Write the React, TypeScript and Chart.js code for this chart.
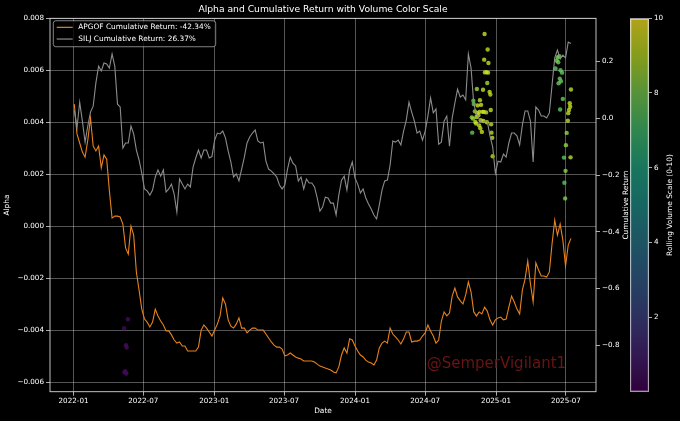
import { useEffect, useRef } from 'react';
import { Chart, registerables } from 'chart.js';

Chart.register(...registerables);

// ---------- data ----------
const weekDates = [
  '2022-01-03','2022-01-10','2022-01-17','2022-01-24','2022-01-31','2022-02-07','2022-02-14','2022-02-21','2022-02-28',
  '2022-03-07','2022-03-14','2022-03-21','2022-03-28','2022-04-04','2022-04-11','2022-04-18','2022-04-25',
  '2022-05-02','2022-05-09','2022-05-16','2022-05-23','2022-05-30','2022-06-06','2022-06-13','2022-06-20','2022-06-27',
  '2022-07-04','2022-07-11','2022-07-18','2022-07-25','2022-08-01','2022-08-08','2022-08-15','2022-08-22','2022-08-29',
  '2022-09-05','2022-09-12','2022-09-19','2022-09-26','2022-10-03','2022-10-10','2022-10-17','2022-10-24','2022-10-31',
  '2022-11-07','2022-11-14','2022-11-21','2022-11-28','2022-12-05','2022-12-12','2022-12-19','2022-12-26',
  '2023-01-02','2023-01-09','2023-01-16','2023-01-23','2023-01-30','2023-02-06','2023-02-13','2023-02-20','2023-02-27',
  '2023-03-06','2023-03-13','2023-03-20','2023-03-27','2023-04-03','2023-04-10','2023-04-17','2023-04-24',
  '2023-05-01','2023-05-08','2023-05-15','2023-05-22','2023-05-29','2023-06-05','2023-06-12','2023-06-19','2023-06-26',
  '2023-07-03','2023-07-10','2023-07-17','2023-07-24','2023-07-31','2023-08-07','2023-08-14','2023-08-21','2023-08-28',
  '2023-09-04','2023-09-11','2023-09-18','2023-09-25','2023-10-02','2023-10-09','2023-10-16','2023-10-23','2023-10-30',
  '2023-11-06','2023-11-13','2023-11-20','2023-11-27','2023-12-04','2023-12-11','2023-12-18','2023-12-25',
  '2024-01-01','2024-01-08','2024-01-15','2024-01-22','2024-01-29','2024-02-05','2024-02-12','2024-02-19','2024-02-26',
  '2024-03-04','2024-03-11','2024-03-18','2024-03-25','2024-04-01','2024-04-08','2024-04-15','2024-04-22','2024-04-29',
  '2024-05-06','2024-05-13','2024-05-20','2024-05-27','2024-06-03','2024-06-10','2024-06-17','2024-06-24',
  '2024-07-01','2024-07-08','2024-07-15','2024-07-22','2024-07-29','2024-08-05','2024-08-12','2024-08-19','2024-08-26',
  '2024-09-02','2024-09-09','2024-09-16','2024-09-23','2024-09-30','2024-10-07','2024-10-14','2024-10-21','2024-10-28',
  '2024-11-04','2024-11-11','2024-11-18','2024-11-25','2024-12-02','2024-12-09','2024-12-16','2024-12-23','2024-12-30',
  '2025-01-06','2025-01-13','2025-01-20','2025-01-27','2025-02-03','2025-02-10','2025-02-17','2025-02-24',
  '2025-03-03','2025-03-10','2025-03-17','2025-03-24','2025-03-31','2025-04-07','2025-04-14','2025-04-21','2025-04-28',
  '2025-05-05','2025-05-12','2025-05-19','2025-05-26','2025-06-02','2025-06-09','2025-06-16','2025-06-23','2025-06-30',
  '2025-07-07','2025-07-14',
];

const apgofReturn = [
  0.050, -0.055, -0.087, -0.119, -0.137, -0.077, 0.001, -0.098, -0.115, -0.098,
  -0.175, -0.129, -0.144, -0.256, -0.352, -0.345, -0.345, -0.348, -0.373, -0.457,
  -0.479, -0.380, -0.412, -0.542, -0.606, -0.673, -0.708, -0.719, -0.736, -0.719,
  -0.673, -0.697, -0.715, -0.729, -0.750, -0.750, -0.764, -0.782, -0.793, -0.789,
  -0.803, -0.803, -0.821, -0.821, -0.821, -0.821, -0.807, -0.747, -0.729, -0.740,
  -0.754, -0.768,
  -0.747, -0.726, -0.697, -0.634, -0.655, -0.711, -0.733, -0.740, -0.726, -0.704,
  -0.740, -0.740, -0.757, -0.747, -0.740, -0.740, -0.747, -0.747, -0.747, -0.761,
  -0.775, -0.789, -0.800, -0.807, -0.807, -0.814, -0.838, -0.835, -0.828, -0.835,
  -0.842, -0.846, -0.849, -0.856, -0.856, -0.856, -0.856, -0.860, -0.867, -0.874,
  -0.877, -0.881, -0.884, -0.888, -0.895, -0.898, -0.877, -0.835, -0.810, -0.828,
  -0.778, -0.782,
  -0.803, -0.821, -0.835, -0.842, -0.853, -0.860, -0.863, -0.870, -0.853, -0.810,
  -0.793, -0.786, -0.793, -0.740, -0.761, -0.771, -0.782, -0.796, -0.778, -0.754,
  -0.754, -0.789, -0.786, -0.786, -0.782, -0.768, -0.757, -0.729, -0.750, -0.768,
  -0.793, -0.782, -0.715, -0.683, -0.697, -0.687, -0.627, -0.599, -0.630, -0.644,
  -0.655, -0.623, -0.577, -0.613, -0.683, -0.697, -0.683, -0.690, -0.666, -0.680,
  -0.711, -0.729, -0.711,
  -0.704, -0.701, -0.711, -0.708, -0.666, -0.627, -0.648, -0.673, -0.690, -0.606,
  -0.567, -0.503, -0.584, -0.648, -0.510, -0.535, -0.556, -0.556, -0.560, -0.542,
  -0.443, -0.359, -0.412, -0.373, -0.429, -0.521, -0.447, -0.4234,
];

const siljReturn = [
  0.029, -0.034, 0.057, -0.010, -0.084, -0.027, 0.022, 0.043, 0.125, 0.184,
  0.167, 0.195, 0.192, 0.177, 0.227, 0.184, 0.050, 0.040, -0.105, -0.087,
  -0.087, -0.027, -0.055, -0.112, -0.147, -0.193, -0.249, -0.256, -0.271, -0.253,
  -0.207, -0.182, -0.204, -0.182, -0.260, -0.249, -0.232, -0.267, -0.331, -0.214,
  -0.232, -0.249, -0.232, -0.242, -0.172, -0.140, -0.112, -0.140, -0.112, -0.112,
  -0.140, -0.135,
  -0.077, -0.052, -0.055, -0.045, -0.069, -0.115, -0.154, -0.207, -0.196, -0.221,
  -0.179, -0.137, -0.087, -0.066, -0.052, -0.041, -0.080, -0.087, -0.084, -0.151,
  -0.179, -0.186, -0.196, -0.207, -0.235, -0.249, -0.235, -0.179, -0.137, -0.158,
  -0.168, -0.221, -0.207, -0.249, -0.214, -0.228, -0.228, -0.242, -0.281, -0.327,
  -0.313, -0.278, -0.281, -0.299, -0.299, -0.341, -0.271, -0.218, -0.204, -0.253,
  -0.182, -0.154,
  -0.211, -0.232, -0.263, -0.249, -0.281, -0.302, -0.320, -0.341, -0.355, -0.306,
  -0.253, -0.221, -0.218, -0.165, -0.080, -0.084, -0.077, -0.094, -0.045, -0.006,
  0.057, 0.022, -0.010, -0.052, -0.045, -0.077, -0.045, 0.008, 0.072, 0.019,
  0.033, -0.091, -0.084, -0.010, 0.008, -0.098, 0.001, 0.054, 0.103, 0.075,
  0.082, 0.065, 0.227, 0.177, 0.050, 0.015, -0.002, -0.013, -0.013, -0.010,
  -0.062, -0.101, -0.193,
  -0.151, -0.154, -0.126, -0.137, -0.087, -0.052, -0.052, -0.062, -0.094, -0.024,
  0.026, 0.026, -0.010, -0.154, 0.040, 0.029, 0.008, 0.008, 0.001, 0.019,
  0.117, 0.213, 0.241, 0.209, 0.223, 0.213, 0.269, 0.2637,
];

const scatterDates = [
  '2022-05-22','2022-05-12','2022-05-17','2022-05-19','2022-05-15','2022-05-18','2022-05-13',
  '2024-12-02','2024-12-10','2024-12-01','2024-12-12','2024-12-03','2024-12-07','2024-12-11','2024-12-09',
  '2024-11-12','2024-11-28','2024-12-15','2024-12-17','2024-11-03','2024-11-20','2024-11-04','2024-11-14',
  '2024-11-23','2024-12-18','2024-11-07','2024-11-13','2024-11-19','2024-11-27','2024-11-30','2024-12-06',
  '2024-10-30','2024-11-02','2024-11-11','2024-11-16','2024-11-22','2024-11-08','2024-11-29','2024-12-08',
  '2024-12-19','2024-11-18','2024-11-25','2024-10-31','2024-12-20','2024-12-22','2024-12-23','2024-11-10',
  '2024-11-21',
  '2025-06-07','2025-06-10','2025-06-11','2025-06-14','2025-06-04','2025-06-17','2025-06-21','2025-06-15',
  '2025-06-12','2025-06-18','2025-07-14','2025-06-23','2025-07-11','2025-07-12','2025-07-09','2025-07-07',
  '2025-06-16','2025-07-06','2025-07-03','2025-07-01','2025-07-13','2025-06-26','2025-06-30','2025-06-27',
  '2025-06-29',
];

const scatterAlpha = [
  -0.00358, -0.00393, -0.00458, -0.00467, -0.00558, -0.00567, -0.00562,
  0.00740, 0.00680, 0.00641, 0.00628, 0.00592, 0.00593, 0.00591, 0.00551,
  0.00528, 0.00525, 0.00517, 0.00507, 0.00483, 0.00485, 0.00470, 0.00465,
  0.00467, 0.00447, 0.00442, 0.00435, 0.00440, 0.00440, 0.00440, 0.00438,
  0.00419, 0.00414, 0.00420, 0.00427, 0.00408, 0.00401, 0.00405, 0.00400,
  0.00392, 0.00388, 0.00363, 0.00360, 0.00360, 0.00340, 0.00269, 0.00395,
  0.00377,
  0.00638, 0.00650, 0.00631, 0.00654, 0.00607, 0.00600, 0.00591, 0.00568,
  0.00550, 0.00558, 0.00526, 0.00490, 0.00473, 0.00460, 0.00447, 0.00435,
  0.00449, 0.00406, 0.00359, 0.00312, 0.00265, 0.00264, 0.00213, 0.00167,
  0.00107,
];

const scatterVolume = [
  0.3, 0.2, 0.4, 0.3, 0.3, 0.4, 0.2,
  9.3, 9.0, 9.2, 9.1, 9.2, 9.0, 9.3, 8.7,
  8.6, 9.1, 9.2, 9.0, 7.7, 9.1, 7.8, 9.2,
  9.3, 9.1, 8.5, 9.2, 9.4, 9.1, 9.3, 9.0,
  8.4, 8.3, 9.2, 9.0, 9.2, 9.1, 9.3, 9.2,
  9.0, 9.1, 9.2, 7.6, 9.0, 9.1, 9.0, 9.1,
  9.2,
  7.8, 7.9, 7.8, 7.9, 7.6, 7.6, 7.6, 7.7,
  7.7, 7.6, 9.0, 7.6, 9.1, 9.1, 9.0, 9.0,
  7.5, 8.9, 8.4, 8.4, 9.0, 7.5, 8.2, 7.4,
  8.1,
];

const xTickLabels = ['2022-01', '2022-07', '2023-01', '2023-07', '2024-01', '2024-07', '2025-01', '2025-07'];
const alphaTicks = [-0.006, -0.004, -0.002, 0, 0.002, 0.004, 0.006, 0.008];
const returnTicks = [-0.8, -0.6, -0.4, -0.2, 0, 0.2];
const volumeTicks = [2, 4, 6, 8, 10];

const xRange = ['2021-11-01', '2025-09-17'];
const alphaRange = [-0.00637, 0.008];
const returnRange = [-0.9644, 0.3527];
const volumeRange = [0, 10];

const apgofLabel = 'APGOF Cumulative Return: -42.34%';
const siljLabel = 'SILJ Cumulative Return: 26.37%';

// ---------- styling helpers ----------
const FONT = "'DejaVu Sans', 'Liberation Sans', sans-serif";
const GRID = 'rgba(255,255,255,0.42)';
const TICK = '#d8d8d8';

const VIRIDIS: number[][] = [
  [68, 1, 84], [72, 36, 117], [65, 68, 135], [53, 95, 141], [42, 120, 142], [33, 145, 140],
  [34, 168, 132], [68, 191, 112], [122, 209, 81], [189, 223, 38], [253, 231, 37],
];

function viridis(t: number, a: number): string {
  const c = Math.min(Math.max(t, 0), 1) * (VIRIDIS.length - 1);
  const i = Math.min(Math.floor(c), VIRIDIS.length - 2);
  const f = c - i;
  const p = VIRIDIS[i];
  const q = VIRIDIS[i + 1];
  const m = (k: number) => Math.round(p[k] + (q[k] - p[k]) * f);
  return `rgba(${m(0)},${m(1)},${m(2)},${a})`;
}

const toTime = (s: string) => Date.parse(s);
const signed = (v: number, digits: number) => (v < 0 ? '\u2212' : '') + Math.abs(v).toFixed(digits);

const mainDecor = {
  id: 'mainDecor',
  beforeDraw(chart: any) {
    const { ctx, width, height } = chart;
    ctx.save();
    ctx.fillStyle = '#000';
    ctx.fillRect(0, 0, width, height);
    ctx.restore();
  },
  afterDraw(chart: any) {
    const { ctx, chartArea: a } = chart;
    ctx.save();
    // frame
    ctx.strokeStyle = '#d6d6d6';
    ctx.lineWidth = 0.9;
    ctx.strokeRect(a.left, a.top, a.right - a.left, a.bottom - a.top);

    // watermark
    ctx.font = `15px ${FONT}`;
    ctx.fillStyle = '#6a1414';
    ctx.textAlign = 'left';
    ctx.textBaseline = 'middle';
    ctx.fillText('@SemperVigilant1', a.left + 0.69 * (a.right - a.left), a.top + 0.927 * (a.bottom - a.top));

    // legend
    const items = chart.data.datasets.filter((d: any) => d.type === 'line');
    ctx.font = `7.4px ${FONT}`;
    const maxW = Math.max(...items.map((d: any) => ctx.measureText(d.label).width));
    const bx = a.left + 3.3;
    const by = a.top + 2.4;
    const bw = 25 + maxW + 5;
    const bh = 26;
    ctx.beginPath();
    ctx.roundRect(bx, by, bw, bh, 2.5);
    ctx.fillStyle = 'rgba(0,0,0,0.8)';
    ctx.fill();
    ctx.strokeStyle = 'rgba(204,204,204,0.8)';
    ctx.lineWidth = 0.8;
    ctx.stroke();
    items.forEach((d: any, i: number) => {
      const y = by + 6.6 + i * 11.7;
      ctx.beginPath();
      ctx.moveTo(bx + 3.4, y);
      ctx.lineTo(bx + 19.4, y);
      ctx.strokeStyle = d.borderColor;
      ctx.lineWidth = 1.2;
      ctx.stroke();
      ctx.fillStyle = '#fff';
      ctx.textAlign = 'left';
      ctx.textBaseline = 'middle';
      ctx.fillText(d.label, bx + 25, y);
    });

    // right axis label (bottom-to-top)
    ctx.translate(a.right + 30, (a.top + a.bottom) / 2);
    ctx.rotate(-Math.PI / 2);
    ctx.font = `7.4px ${FONT}`;
    ctx.fillStyle = '#fff';
    ctx.textAlign = 'center';
    ctx.textBaseline = 'middle';
    ctx.fillText('Cumulative Return', 0, 0);
    ctx.restore();
  },
};

const cbDecor = {
  id: 'cbDecor',
  afterDraw(chart: any) {
    const { ctx, chartArea: a } = chart;
    ctx.save();
    ctx.translate(a.right + 21, (a.top + a.bottom) / 2);
    ctx.rotate(-Math.PI / 2);
    ctx.font = `7.4px ${FONT}`;
    ctx.fillStyle = '#fff';
    ctx.textAlign = 'center';
    ctx.textBaseline = 'middle';
    ctx.fillText('Rolling Volume Scale (0-10)', 0, 0);
    ctx.restore();
  },
};

export default function App() {
  const mainRef = useRef<HTMLCanvasElement>(null);
  const cbRef = useRef<HTMLCanvasElement>(null);

  useEffect(() => {
    const tickFont = { family: FONT, size: 7.2 };
    const labelFont = { family: FONT, size: 7.4 };

    const main = new Chart(mainRef.current as HTMLCanvasElement, {
      type: 'line',
      data: {
        datasets: [
          {
            type: 'scatter',
            label: 'Rolling Volume',
            data: scatterDates.map((d, i) => ({ x: toTime(d), y: scatterAlpha[i] })),
            yAxisID: 'y',
            pointBackgroundColor: scatterVolume.map((v) => viridis(v / 10, 0.8)),
            pointBorderWidth: 0,
            pointRadius: 2.2,
            pointHoverRadius: 2.2,
            order: 3,
          } as any,
          {
            type: 'line',
            label: apgofLabel,
            data: weekDates.map((d, i) => ({ x: toTime(d), y: apgofReturn[i] })),
            yAxisID: 'y1',
            borderColor: '#e8821c',
            borderWidth: 1.1,
            pointRadius: 0,
            pointHoverRadius: 0,
            tension: 0,
            order: 2,
          },
          {
            type: 'line',
            label: siljLabel,
            data: weekDates.map((d, i) => ({ x: toTime(d), y: siljReturn[i] })),
            yAxisID: 'y1',
            borderColor: '#8c8c8c',
            borderWidth: 1.1,
            pointRadius: 0,
            pointHoverRadius: 0,
            tension: 0,
            order: 1,
          },
        ],
      },
      options: {
        responsive: false,
        animation: false,
        events: [],
        layout: { padding: 0 },
        plugins: {
          legend: { display: false },
          tooltip: { enabled: false },
          title: {
            display: true,
            text: 'Alpha and Cumulative Return with Volume Color Scale',
            color: '#fff',
            font: { family: FONT, size: 9.2, weight: 'normal' },
            padding: { top: 4, bottom: 3.3 },
          },
        },
        scales: {
          x: {
            type: 'linear',
            min: toTime(xRange[0]),
            max: toTime(xRange[1]),
            afterBuildTicks: (s: any) => {
              s.ticks = xTickLabels.map((l) => ({ value: toTime(l + '-01') }));
            },
            afterFit: (s: any) => {
              s.height = 29.3;
            },
            ticks: {
              color: '#fff',
              font: tickFont,
              autoSkip: false,
              maxRotation: 0,
              padding: 1,
              callback: (_v: any, i: number) => xTickLabels[i],
            },
            grid: { color: GRID, lineWidth: 0.8, tickColor: TICK, tickLength: 4 },
            border: { display: false },
            title: { display: true, text: 'Date', color: '#fff', font: labelFont, padding: { top: 0, bottom: 5.9 } },
          },
          y: {
            type: 'linear',
            position: 'left',
            min: alphaRange[0],
            max: alphaRange[1],
            afterBuildTicks: (s: any) => {
              s.ticks = alphaTicks.map((v) => ({ value: v }));
            },
            afterFit: (s: any) => {
              s.width = 50;
            },
            ticks: {
              color: '#fff',
              font: tickFont,
              padding: 2,
              callback: (v: any) => signed(Number(v), 3),
            },
            grid: { color: GRID, lineWidth: 0.8, tickColor: TICK, tickLength: 4 },
            border: { display: false },
            title: { display: true, text: 'Alpha', color: '#fff', font: labelFont, padding: { top: 3, bottom: 0 } },
          },
          y1: {
            type: 'linear',
            position: 'right',
            min: returnRange[0],
            max: returnRange[1],
            afterBuildTicks: (s: any) => {
              s.ticks = returnTicks.map((v) => ({ value: v }));
            },
            afterFit: (s: any) => {
              s.width = 50;
            },
            ticks: {
              color: '#fff',
              font: tickFont,
              padding: 2,
              callback: (v: any) => signed(Number(v), 1),
            },
            grid: { drawOnChartArea: false, tickColor: TICK, tickLength: 4, lineWidth: 0.8 },
            border: { display: false },
          },
        },
      } as any,
      plugins: [mainDecor],
    });

    const cb = new Chart(cbRef.current as HTMLCanvasElement, {
      type: 'bar',
      data: {
        labels: ['volume'],
        datasets: [
          {
            data: [volumeRange as any],
            backgroundColor: (c: any) => {
              const chart = c.chart;
              const y = chart.scales?.y;
              if (!chart.chartArea || !y) return 'rgba(0,0,0,0)';
              const g = chart.ctx.createLinearGradient(0, y.getPixelForValue(volumeRange[0]), 0, y.getPixelForValue(volumeRange[1]));
              VIRIDIS.forEach((_c, i) => {
                const t = i / (VIRIDIS.length - 1);
                g.addColorStop(t, viridis(t, 0.7));
              });
              return g;
            },
            borderColor: '#cfcfcf',
            borderWidth: 1,
            borderSkipped: false,
            barPercentage: 1,
            categoryPercentage: 1,
          } as any,
        ],
      },
      options: {
        responsive: false,
        animation: false,
        events: [],
        layout: { padding: { top: 18.3, bottom: 29.3, left: 10, right: 0 } },
        plugins: { legend: { display: false }, tooltip: { enabled: false } },
        scales: {
          x: { display: false },
          y: {
            type: 'linear',
            position: 'right',
            min: volumeRange[0],
            max: volumeRange[1],
            afterBuildTicks: (s: any) => {
              s.ticks = volumeTicks.map((v) => ({ value: v }));
            },
            afterFit: (s: any) => {
              s.width = 31;
            },
            ticks: { color: '#fff', font: tickFont, padding: 2 },
            grid: { drawOnChartArea: false, tickColor: TICK, tickLength: 3, lineWidth: 0.8 },
            border: { display: false },
          },
        },
      } as any,
      plugins: [cbDecor],
    });

    return () => {
      main.destroy();
      cb.destroy();
    };
  }, []);

  return (
    <div style={{ position: 'fixed', left: 0, top: 0, width: 680, height: 421, background: '#000' }}>
      <canvas ref={mainRef} width={646} height={421} style={{ position: 'absolute', left: 0, top: 0 }} />
      <canvas ref={cbRef} width={60} height={421} style={{ position: 'absolute', left: 620, top: 0 }} />
    </div>
  );
}
